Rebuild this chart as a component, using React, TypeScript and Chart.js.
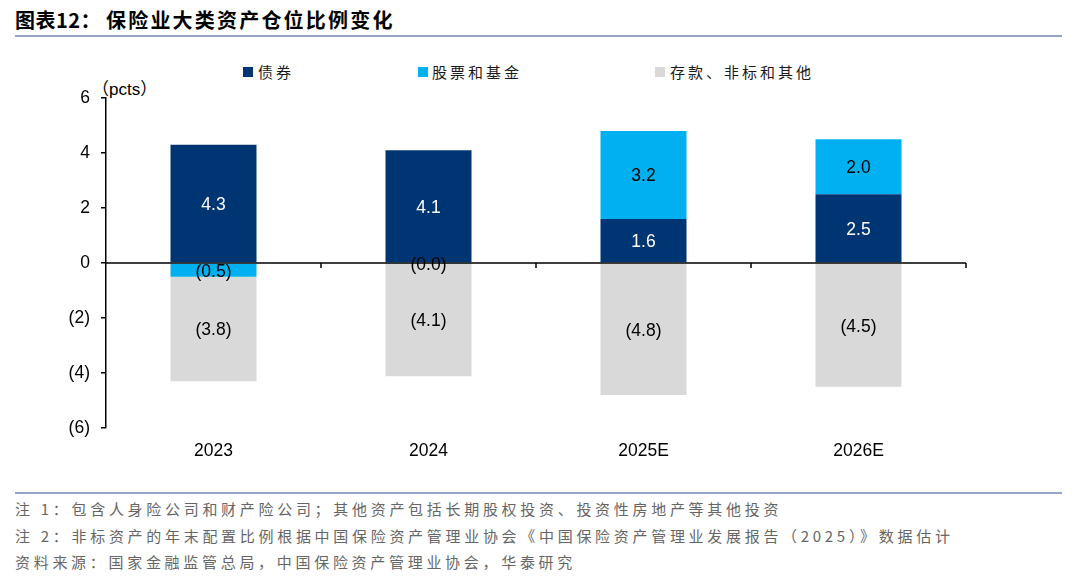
import React, { useEffect, useRef } from "react";
import { Chart, registerables } from "chart.js";

Chart.register(...registerables);

const categories = ["2023", "2024", "2025E", "2026E"];
const seriesNames = ["债券", "股票和基金", "存款、非标和其他"];
const bonds = [4.3, 4.1, 1.6, 2.5];
const equities = [-0.5, -0.02, 3.2, 2.0];
const deposits = [-3.8, -4.1, -4.8, -4.5];
const yTicks = [-6, -4, -2, 0, 2, 4, 6];
const seriesColors = ["#003574", "#00B0F0", "#D9D9D9"];
const labelColors = ["#FFFFFF", "#000000", "#000000"];

const fmt = (v: number) => (v < 0 ? `(${Math.abs(v).toFixed(1)})` : v.toFixed(1));

const NUM_FONT = "'Liberation Sans', Arial, sans-serif";
const CJK_FONT = "'Noto Sans CJK SC', 'Noto Sans', sans-serif";

const zeroLinePlugin = {
  id: "zeroLine",
  afterDatasetsDraw(chart: any) {
    const { ctx, chartArea, scales } = chart;
    const y0 = scales.y.getPixelForValue(0);
    ctx.save();
    ctx.strokeStyle = "#000";
    ctx.lineWidth = 1.5;
    ctx.beginPath();
    ctx.moveTo(chartArea.left, y0);
    ctx.lineTo(chartArea.right, y0);
    for (let i = 1; i <= categories.length; i++) {
      const x = scales.x.getPixelForValue(i - 0.5);
      ctx.moveTo(x, y0);
      ctx.lineTo(x, y0 + 5);
    }
    ctx.stroke();
    ctx.restore();
  },
};

const labelPlugin = {
  id: "barLabels",
  afterDraw(chart: any) {
    const { ctx } = chart;
    ctx.save();
    ctx.font = `17.5px ${NUM_FONT}`;
    ctx.textAlign = "center";
    ctx.textBaseline = "middle";
    chart.data.datasets.forEach((ds: any, di: number) => {
      const meta = chart.getDatasetMeta(di);
      meta.data.forEach((el: any, i: number) => {
        const v = ds.data[i];
        const cy = (el.y + el.base) / 2 + 1.5;
        ctx.fillStyle = labelColors[di];
        ctx.fillText(fmt(v), el.x, cy);
      });
    });
    ctx.restore();
  },
};

export default function App() {
  const ref = useRef<HTMLCanvasElement>(null);
  useEffect(() => {
    document.body.style.margin = "0";
    const chart = new Chart(ref.current!, {
      type: "bar",
      data: {
        labels: categories,
        datasets: [bonds, equities, deposits].map((d, i) => ({
          label: seriesNames[i],
          data: d,
          backgroundColor: seriesColors[i],
          borderWidth: 0,
          categoryPercentage: 1,
          barPercentage: 0.4,
        })),
      },
      options: {
        responsive: false,
        animation: false,
        layout: { padding: { top: 48, right: 114, left: 0, bottom: 0 } },
        plugins: { legend: { display: false }, tooltip: { enabled: false } },
        scales: {
          x: {
            stacked: true,
            grid: { display: false, drawTicks: false },
            border: { display: false },
            ticks: { color: "#000", font: { family: NUM_FONT, size: 17.5 }, padding: 13 },
            afterFit: (s: any) => {
              s.height = 52;
            },
          },
          y: {
            stacked: true,
            min: -6,
            max: 6,
            afterBuildTicks: (s: any) => {
              s.ticks = yTicks.map((v) => ({ value: v }));
            },
            grid: { drawOnChartArea: false, drawTicks: true, tickLength: 5, color: "#000", lineWidth: 1.5 },
            border: { display: true, color: "#000", width: 1.5 },
            ticks: {
              color: "#000",
              font: { family: NUM_FONT, size: 17.5 },
              padding: 11,
              callback: (v: any) => fmt(Number(v)).replace(".0", ""),
            },
            afterFit: (s: any) => {
              s.width = 106;
            },
          },
        },
      },
      plugins: [zeroLinePlugin, labelPlugin],
    });
    return () => chart.destroy();
  }, []);

  const legendItems = [
    { box: 243, text: 258 },
    { box: 418, text: 432 },
    { box: 655, text: 670 },
  ];
  const footer = [
    "注 1：包含人身险公司和财产险公司；其他资产包括长期股权投资、投资性房地产等其他投资",
    "注 2：非标资产的年末配置比例根据中国保险资产管理业协会《中国保险资产管理业发展报告（2025）》数据估计",
    "资料来源：国家金融监管总局，中国保险资产管理业协会，华泰研究",
  ];

  return (
    <div style={{ position: "absolute", left: 0, top: 0, width: 1080, height: 578, background: "#fff", overflow: "hidden" }}>
      <div style={{ position: "absolute", left: 15, top: 7, fontFamily: CJK_FONT, fontWeight: 700, fontSize: 20, lineHeight: "26px", color: "#000", letterSpacing: 0.5, whiteSpace: "nowrap" }}>
        图表12：
      </div>
      <div style={{ position: "absolute", left: 106, top: 7, fontFamily: CJK_FONT, fontWeight: 700, fontSize: 20, lineHeight: "26px", color: "#000", letterSpacing: 2.2, whiteSpace: "nowrap" }}>
        保险业大类资产仓位比例变化
      </div>
      <div style={{ position: "absolute", left: 15, top: 35, width: 1047, height: 2, background: "#95A6C4" }} />
      {legendItems.map((it, i) => (
        <React.Fragment key={i}>
          <div style={{ position: "absolute", left: it.box, top: 67, width: 10, height: 10, background: seriesColors[i] }} />
          <div style={{ position: "absolute", left: it.text, top: 61, fontFamily: CJK_FONT, fontSize: 15, lineHeight: "22px", color: "#1a1a1a", letterSpacing: 3, whiteSpace: "nowrap" }}>
            {seriesNames[i]}
          </div>
        </React.Fragment>
      ))}
      <div style={{ position: "absolute", left: 92, top: 77, fontSize: 17, lineHeight: "22px", color: "#000", whiteSpace: "nowrap" }}>
        <span style={{ fontFamily: CJK_FONT }}>（</span>
        <span style={{ fontFamily: NUM_FONT }}>pcts</span>
        <span style={{ fontFamily: CJK_FONT }}>）</span>
      </div>
      <canvas ref={ref} width={1080} height={430} style={{ position: "absolute", left: 0, top: 50 }} />
      <div style={{ position: "absolute", left: 15, top: 492, width: 1047, height: 2, background: "#95A6C4" }} />
      {footer.map((t, i) => (
        <div key={i} style={{ position: "absolute", left: 15, top: 498 + i * 26.5, fontFamily: CJK_FONT, fontSize: 15, lineHeight: "22px", color: "#666", letterSpacing: 3.7, whiteSpace: "nowrap" }}>
          {t}
        </div>
      ))}
    </div>
  );
}
